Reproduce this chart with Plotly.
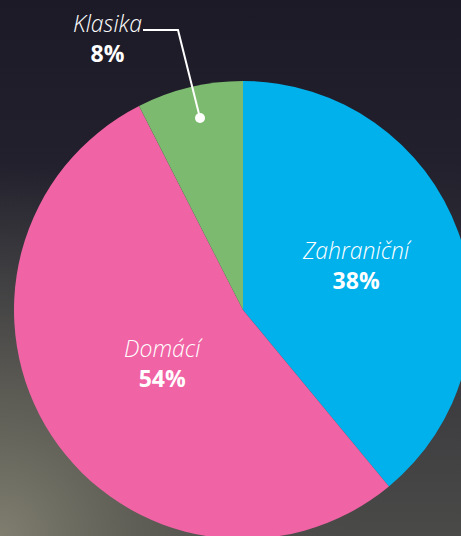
import base64

import plotly.graph_objects as go


# ==================================
# DATA
# ==================================

segments = ["Zahraniční", "Domácí", "Klasika"]
shares = [39, 53.5, 7.5]
share_labels = ["38%", "54%", "8%"]
colors = ["#00B1EC", "#F063A5", "#7CBB6F"]

# visible window and a slightly larger canvas so the pie may run off the edge
VW, VH = 461, 536
W, H = 480, 545


# ==================================
# BACKGROUND GRADIENT
# ==================================

svg = f"""<svg xmlns='http://www.w3.org/2000/svg' width='{W}' height='{H}'>
<defs>
<linearGradient id='lg' x1='0' y1='0' x2='0' y2='{VH}' gradientUnits='userSpaceOnUse'>
<stop offset='0' stop-color='#1D1A27'/>
<stop offset='0.3' stop-color='#22202C'/>
<stop offset='0.6' stop-color='#35343B'/>
<stop offset='1' stop-color='#4A4A48'/>
</linearGradient>
<radialGradient id='rg' cx='0' cy='{VH}' r='370' gradientUnits='userSpaceOnUse'>
<stop offset='0' stop-color='#7F7E6F' stop-opacity='1'/>
<stop offset='0.4' stop-color='#626158' stop-opacity='0.8'/>
<stop offset='1' stop-color='#4A4A48' stop-opacity='0'/>
</radialGradient>
</defs>
<rect width='{W}' height='{H}' fill='url(#lg)'/>
<rect width='{W}' height='{H}' fill='url(#rg)'/>
</svg>"""
bg_src = "data:image/svg+xml;base64," + base64.b64encode(svg.encode()).decode()


def px(x):
    return x / W


def py(y):
    return 1 - y / H


# ==================================
# PIE
# ==================================

fig = go.Figure(
    go.Pie(
        labels=segments,
        values=shares,
        marker=dict(colors=colors, line=dict(width=0)),
        sort=False,
        direction="clockwise",
        rotation=0,
        textinfo="none",
        hoverinfo="label+percent",
        domain=dict(x=[px(14), px(472)], y=[py(539), py(81)]),
        showlegend=False,
    )
)

label_font = dict(family="Open Sans", size=23, color="white", weight=300)

# label centres (pixels from top-left)
label_pos = [(357, 265), (163, 363), (107, 38)]

annotations = []
for name, pct, (lx, ly) in zip(segments, share_labels, label_pos):
    annotations.append(dict(
        x=px(lx), y=py(ly), xref="paper", yref="paper",
        text=f"<i>{name}</i><br><b>{pct}</b>",
        showarrow=False, font=label_font,
        xanchor="center", yanchor="middle", align="center",
    ))

# leader line for Klasika
shapes = [
    dict(
        type="path", xref="paper", yref="paper",
        path=f"M {px(143)} {py(30)} L {px(178)} {py(30)} L {px(200)} {py(118)}",
        line=dict(color="white", width=2),
    ),
    dict(
        type="circle", xref="paper", yref="paper",
        x0=px(195), x1=px(205), y0=py(123), y1=py(113),
        fillcolor="white", line=dict(width=0),
    ),
]

fig.update_layout(
    width=W,
    height=H,
    margin=dict(l=0, r=0, t=0, b=0),
    paper_bgcolor="#1D1A27",
    plot_bgcolor="rgba(0,0,0,0)",
    images=[dict(
        source=bg_src, xref="paper", yref="paper",
        x=0, y=1, sizex=1, sizey=1, sizing="stretch",
        xanchor="left", yanchor="top", layer="below",
    )],
    annotations=annotations,
    shapes=shapes,
)

fig.write_html(
    "out.html",
    config={"displayModeBar": False},
    post_script="document.body.style.margin='0';document.body.style.overflow='hidden';",
)
